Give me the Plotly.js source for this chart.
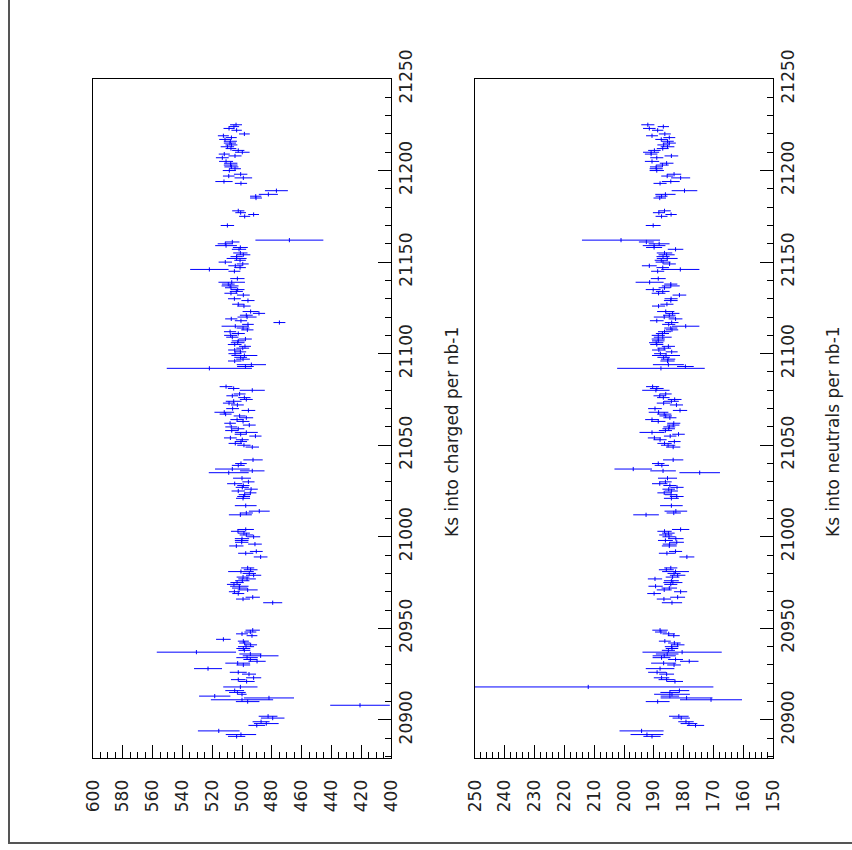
<!DOCTYPE html>
<html><head><meta charset="utf-8">
<script src="https://cdn.plot.ly/plotly-3.0.1.min.js"></script>
<style>html,body{margin:0;padding:0;background:#fff}#chart{width:852px;height:850px}</style>
</head><body><div id="chart"></div>
<script>
// Run numbers (shared by both panels)
const runs = [
21225,21224,21223,21222,21220,21219,21218,21217,21216,21215,21214,21213,21212,21211,21210,21209,21208,21207,21205,21204,21203,21202,21201,21200,21198,21197,21196,21194,21193,21189,21187,21186,21185,21178,21177,21176,21175,21170,21162,21161,21160,21159,21158,21157,21155,21154,21153,21152,21151,21150,21149,21148,21147,21146,
21145,21141,21139,21138,21137,21136,21135,21134,21133,21132,21130,21129,21127,21126,21123,21122,21121,21120,21119,21118,21117,21116,21115,21114,21113,21112,21111,21110,21109,21108,21107,21106,21105,21104,21103,21102,21101,21100,21099,21098,21097,21096,21094,21093,21092,21082,21081,21080,21078,21077,21076,21075,21074,21073,21072,21070,21069,21068,21067,21066,21065,21064,21063,21062,21061,21060,21059,
21058,21057,21056,21055,21054,21053,21052,21051,21050,21049,21042,21040,21039,21037,21036,21035,21032,21030,21029,21028,21027,21026,21025,21024,21023,21022,21021,21017,21014,21013,21012,21004,21003,21002,21001,21000,20999,20998,20997,20996,20995,20992,20991,20989,20983,20982,20981,20980,20979,20978,20977,20976,20975,20974,20973,20972,
20971,20970,20969,20967,20966,20964,20949,20948,20947,20946,20944,20943,20942,20941,20940,20939,20938,20937,20936,20935,20934,20933,20932,20931,20930,20928,20926,20925,20923,20922,20921,20918,20916,20915,20914,20913,20912,20911,20910,20908,20902,20901,20899,20898,20897,20894,20892,20891];

// Ks into charged per nb-1
const charged = [
504.0,505.4,508.7,503.6,498.4,512.5,507.1,511.4,507.8,508.1,507.1,509.8,507.4,502.5,499.8,511.9,504.7,513.2,510.7,507.6,507.6,507.1,504.7,508.5,500.9,508.9,499.1,512.1,500.7,476.9,482.3,490.8,490.6,502.5,500.9,492.2,498.2,509.8,468.2,506.5,511.2,510.7,501.1,502.0,501.1,499.1,503.6,503.6,501.3,511.2,499.5,504.5,501.3,521.9,
505.1,503.1,506.9,509.2,508.0,507.4,502.9,503.8,507.4,499.1,505.1,496.0,502.5,498.7,494.2,488.6,497.1,496.6,507.2,500.7,474.9,496.0,504.5,499.3,496.4,508.0,502.5,507.6,506.5,497.7,502.5,502.9,504.9,498.0,499.5,504.9,501.1,504.7,498.4,500.9,499.3,504.9,493.7,497.7,521.9,510.7,505.6,493.1,501.6,506.5,498.4,497.1,505.6,508.7,503.1,506.3,495.7,511.9,511.0,501.6,497.1,503.3,499.3,508.0,495.1,507.2,502.5,
506.9,497.1,500.9,491.0,507.8,499.8,500.7,504.5,498.7,493.1,492.6,500.7,502.5,506.5,493.1,508.9,500.0,495.7,504.9,499.1,499.8,493.9,502.5,494.4,498.2,498.9,499.3,497.5,488.4,497.1,501.1,497.5,502.7,498.7,497.1,492.2,500.0,500.2,500.2,491.3,503.8,490.4,497.5,487.5,496.2,494.2,500.7,495.1,492.2,499.3,496.6,499.8,503.3,505.4,501.8,501.6,
496.2,505.1,502.5,492.8,499.3,479.4,492.8,494.4,500.0,493.3,512.5,499.1,498.2,494.2,497.3,499.1,498.4,530.6,494.4,487.5,496.6,494.4,489.9,502.9,499.1,522.8,502.5,495.3,492.2,502.5,496.9,501.1,504.9,503.1,500.0,518.3,481.9,500.0,496.2,420.8,482.5,479.4,487.2,483.7,490.1,515.6,500.7,503.6];
const chargedErr = [
4.0,3.5,3.7,3.5,3.6,3.7,3.6,3.9,4.4,4.1,4.0,4.5,3.6,4.1,4.9,3.7,4.4,4.3,4.7,4.5,4.6,4.7,4.0,4.4,4.5,3.9,5.9,5.8,4.1,7.7,6.4,3.8,4.0,4.1,3.6,3.6,3.7,4.5,22.8,4.8,5.1,7.3,5.0,4.8,4.8,4.7,4.1,6.7,3.9,4.5,4.0,4.7,3.9,12.9,
4.0,4.8,8.9,4.3,5.7,4.0,4.6,4.4,4.4,4.3,4.3,4.4,4.1,4.5,5.4,4.1,4.3,6.4,4.1,4.1,4.0,3.9,9.2,4.3,4.1,4.1,4.4,4.4,4.1,4.3,4.4,4.6,4.6,4.0,4.3,4.4,3.9,4.4,8.7,4.3,4.6,4.5,9.8,5.6,28.6,4.3,3.9,8.4,4.0,4.0,4.1,4.3,5.3,4.1,4.3,4.3,4.6,6.6,4.0,4.0,4.6,4.5,4.3,3.9,4.3,4.0,4.1,
4.4,7.7,4.0,4.1,4.3,4.3,4.1,4.5,4.5,4.5,6.5,3.9,4.3,11.6,8.2,13.4,6.0,4.1,5.1,4.1,4.4,4.5,4.5,4.1,4.0,4.3,4.7,7.3,7.0,4.4,7.7,5.5,4.7,4.0,4.5,4.4,4.8,4.6,4.5,4.6,4.8,4.3,5.1,4.6,4.4,4.6,8.6,4.5,5.1,4.3,5.9,4.8,4.5,4.7,6.2,5.1,
6.7,3.7,4.0,4.8,4.7,6.4,4.8,4.0,4.0,3.6,4.9,3.7,3.7,4.3,5.4,4.7,4.0,26.6,7.4,12.0,7.2,4.7,5.8,8.3,4.6,9.4,5.7,4.7,5.1,4.9,5.4,11.5,6.3,5.6,3.1,10.5,16.8,20.9,7.9,20.0,6.3,7.9,5.7,8.3,5.6,14.0,10.2,5.8];

// Ks into neutrals per nb-1
const neutral = [
192.0,186.8,191.5,188.7,186.3,190.6,184.8,187.5,185.4,184.8,186.7,185.4,187.0,189.8,190.9,190.9,184.1,189.0,190.6,185.7,187.1,189.2,189.2,189.0,183.2,185.5,181.0,184.3,187.9,179.7,186.1,187.4,188.0,186.4,188.3,184.2,187.4,190.2,201.0,192.5,188.2,189.9,189.9,182.7,186.4,185.7,186.9,185.5,187.5,186.9,184.7,191.5,187.0,181.1,
188.7,188.5,191.4,184.3,184.3,186.4,190.2,187.0,188.4,181.4,184.2,184.3,185.6,188.4,186.0,183.7,184.8,186.5,182.7,189.0,184.0,185.0,179.3,184.3,183.9,186.4,187.1,188.5,187.0,188.5,188.5,189.2,189.0,185.1,186.5,188.3,184.0,187.8,185.9,186.7,185.2,185.4,185.1,179.4,187.6,190.4,189.0,189.3,186.0,188.0,186.8,183.0,184.1,186.7,182.4,189.6,181.2,188.4,186.5,186.0,184.6,190.6,188.5,183.3,183.5,184.8,185.0,
186.1,190.6,181.7,184.5,189.8,187.9,183.1,186.4,185.2,183.5,183.5,188.5,187.3,196.9,186.9,174.6,185.4,186.1,188.0,184.6,182.2,185.0,184.1,186.5,184.2,182.3,184.1,184.1,182.6,183.3,192.6,181.0,186.4,185.1,186.0,184.9,182.6,186.1,182.3,184.7,184.8,182.7,185.6,178.9,184.3,185.8,182.7,183.2,182.0,183.7,189.6,184.1,183.6,184.3,189.4,184.8,
186.5,181.0,189.9,182.0,186.6,183.9,187.9,187.6,185.0,183.3,null,186.3,183.1,182.0,184.0,183.9,185.1,180.5,185.5,186.5,187.4,182.7,178.1,186.7,183.2,187.9,188.9,185.7,187.4,185.7,182.9,212.0,181.4,184.6,183.9,184.6,179.0,170.8,188.7,null,181.6,180.8,179.2,178.2,176.0,194.1,192.3,190.6];
const neutralErr = [
2.2,1.9,2.1,1.9,2.0,2.0,2.0,2.0,2.1,2.2,2.1,2.3,2.0,2.1,2.7,2.1,2.3,2.2,2.4,2.3,2.1,2.1,2.2,2.4,2.4,2.0,3.2,3.0,2.2,4.3,3.4,2.0,2.1,2.1,2.0,1.9,2.0,2.5,13.1,2.5,3.5,3.8,2.7,2.6,2.6,2.7,2.2,3.5,2.2,2.5,2.1,2.5,2.1,6.4,
2.2,2.5,4.7,2.2,3.0,2.0,2.5,2.3,2.3,2.3,2.2,2.3,2.2,2.2,2.9,2.3,2.1,3.5,2.3,2.3,2.3,2.2,4.6,2.2,2.1,2.2,2.2,2.2,3.0,2.2,2.1,2.4,2.2,2.2,2.3,2.3,2.0,2.1,4.7,2.1,2.4,2.4,5.2,2.8,14.7,2.2,2.3,4.6,2.0,2.1,2.1,2.3,2.5,2.3,2.2,2.3,2.4,3.3,2.4,2.1,2.2,2.3,2.4,2.2,2.1,2.0,2.1,
2.2,4.2,2.1,2.1,2.2,2.2,2.1,2.4,2.4,2.4,3.4,2.1,2.4,6.3,4.3,6.8,3.2,2.1,2.6,2.2,2.2,2.1,2.2,2.3,2.1,2.3,2.5,3.8,3.8,2.4,4.3,2.9,2.4,2.1,2.2,2.2,2.6,2.5,2.4,2.3,2.5,2.2,2.7,2.5,2.2,2.5,4.5,2.2,2.6,2.3,2.4,2.5,3.2,2.2,2.4,2.6,
2.5,2.2,2.3,2.5,2.4,3.4,2.6,2.0,2.1,2.0,null,2.0,2.1,2.3,2.3,2.1,2.2,13.3,3.8,3.9,3.0,2.5,3.1,4.2,2.3,4.8,3.0,2.5,2.6,2.7,2.7,42.0,3.3,3.2,6.0,3.1,8.7,10.4,4.0,null,3.3,2.9,2.6,2.8,2.9,7.4,5.5,2.9];

const chargedTicks = [600,580,560,540,520,500,480,460,440,420,400];
const neutralTicks = [250,240,230,220,210,200,190,180,170,160,150];
const runTicks = [20900,20950,21000,21050,21100,21150,21200,21250];
const titles = ['Ks into charged per nb-1', 'Ks into neutrals per nb-1'];

const W = 852, H = 850;
const BLUE = '#0000ff';
const FONT = {family: 'DejaVu Sans, Liberation Sans, sans-serif', size: 17, color: '#222'};

function series(xv, ev, xa, ya) {
  return {
    type: 'scatter', mode: 'markers', x: xv, y: runs, xaxis: xa, yaxis: ya,
    marker: {symbol: 'line-ns', size: 3, color: BLUE, line: {width: 1, color: BLUE}},
    error_x: {type: 'data', array: ev, visible: true, color: BLUE, thickness: 1, width: 0},
    hoverinfo: 'x+y', showlegend: false
  };
}

const yDom = [1 - 758 / H, 1 - 79 / H];
function valueAxis(dom, rng, ticks, minorStep, anchor) {
  return {
    domain: dom, range: rng, anchor: anchor, tickmode: 'array', tickvals: ticks,
    ticktext: ticks.map(String), tickangle: -90, ticks: 'inside', ticklen: 13,
    tickwidth: 1, tickcolor: '#000', ticklabelstandoff: 14,
    minor: {dtick: minorStep, ticks: 'inside', ticklen: 6, tickwidth: 1, tickcolor: '#000', showgrid: false},
    showline: true, linecolor: '#000', linewidth: 1, mirror: true,
    showgrid: false, zeroline: false, automargin: false, tickfont: FONT, fixedrange: true
  };
}
function runAxis(anchor) {
  return {
    domain: yDom, range: [20879.2, 21250], anchor: anchor, side: 'right',
    tickmode: 'array', tickvals: runTicks, ticktext: runTicks.map(String), tickangle: -90,
    ticks: 'inside', ticklen: 13, tickwidth: 1, tickcolor: '#000',
    minor: {dtick: 10, tick0: 20900, ticks: 'inside', ticklen: 6, tickwidth: 1, tickcolor: '#000', showgrid: false},
    showline: true, linecolor: '#000', linewidth: 1, mirror: true,
    showgrid: false, zeroline: false, automargin: false, tickfont: FONT, fixedrange: true
  };
}
function axisTitle(text, xpx) {
  return {text: text, xref: 'paper', yref: 'paper', x: xpx / W, y: 1 - 432 / H,
          xanchor: 'center', yanchor: 'middle', textangle: -90, showarrow: false, font: FONT};
}

const layout = {
  width: W, height: H, margin: {l: 0, r: 0, t: 0, b: 0, pad: 0},
  paper_bgcolor: '#fff', plot_bgcolor: '#fff', showlegend: false,
  xaxis: valueAxis([93 / W, 391 / W], [600, 400], chargedTicks, 5, 'y'),
  yaxis: runAxis('x'),
  xaxis2: valueAxis([475 / W, 773 / W], [250, 150], neutralTicks, 2, 'y2'),
  yaxis2: runAxis('x2'),
  annotations: [axisTitle(titles[0], 452), axisTitle(titles[1], 833)],
  shapes: [{type: 'rect', xref: 'paper', yref: 'paper', x0: 9 / W, x1: 1.02, y0: 1 - 843 / H, y1: 1.02,
            line: {color: '#555', width: 2}, fillcolor: 'rgba(0,0,0,0)', layer: 'below'}]
};

Plotly.newPlot('chart', [series(charged, chargedErr, 'x', 'y'), series(neutral, neutralErr, 'x2', 'y2')],
  layout, {displayModeBar: false, staticPlot: true});
</script></body></html>
